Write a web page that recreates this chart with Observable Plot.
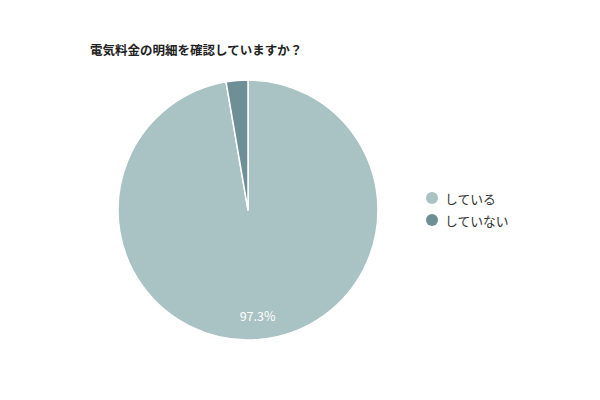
<!DOCTYPE html>
<html><head><meta charset="utf-8">
<script src="https://cdn.jsdelivr.net/npm/d3@7"></script>
<script src="https://cdn.jsdelivr.net/npm/@observablehq/plot@0.6"></script>
<style>
body{margin:0;background:#fff;font-family:"Noto Sans CJK JP","Noto Sans",sans-serif;}
#wrap{position:relative;width:600px;height:400px;}
#title{position:absolute;left:90px;top:40px;font-size:12.5px;font-weight:bold;color:#222;white-space:nowrap;}
#legend{position:absolute;left:426px;top:187px;font-size:12.8px;color:#333;}
.li{display:flex;align-items:center;height:22px;}
.sw{width:12px;height:12px;border-radius:50%;margin-right:7px;}
svg{position:absolute;left:0;top:0;}
</style></head>
<body><div id="wrap"><div id="title">電気料金の明細を確認していますか？</div><div id="legend"></div></div>
<script>
const categories = ["している", "していない"];
const values = [97.3, 2.7];
const colors = ["#a9c2c3", "#6e8f95"];

const data = categories.map((c, i) => ({category: c, value: values[i]}));
const arcs = d3.pie().sort(null).value(d => d.value)(data);
const labelArc = d3.arc().innerRadius(0.82).outerRadius(0.82);
const labels = arcs.filter(a => a.data.value > 10).map(a => {
  const [cx, cy] = labelArc.centroid(a);
  return {x: cx, y: -cy, label: a.data.value.toFixed(1) + "%"};
});

function pieMark(index, scales) {
  const cx = scales.x(0), cy = scales.y(0), r = scales.x(1) - scales.x(0);
  const arc = d3.arc().innerRadius(0).outerRadius(r);
  const g = d3.create("svg:g").attr("transform", `translate(${cx},${cy})`);
  g.selectAll("path").data(arcs).join("path")
    .attr("d", arc)
    .attr("fill", d => colors[categories.indexOf(d.data.category)])
    .attr("stroke", "#fff")
    .attr("stroke-width", 1.5)
    .attr("stroke-linejoin", "round");
  return g.node();
}

const chart = Plot.plot({
  width: 600, height: 400,
  marginTop: 0, marginBottom: 0, marginLeft: 0, marginRight: 0,
  x: {domain: [-1, 1], range: [118, 378], axis: null},
  y: {domain: [-1, 1], range: [340, 80], axis: null},
  style: {fontFamily: '"Noto Sans CJK JP","Noto Sans",sans-serif', background: "transparent"},
  marks: [
    pieMark,
    Plot.text(labels, {x: "x", y: "y", text: "label", fill: "#fff", fontSize: 12.5, fontWeight: "normal"})
  ]
});
document.getElementById("wrap").appendChild(chart);

const legend = d3.select("#legend");
categories.forEach((c, i) => {
  const row = legend.append("div").attr("class", "li");
  row.append("div").attr("class", "sw").style("background", colors[i]);
  row.append("span").text(c);
});
</script></body></html>
